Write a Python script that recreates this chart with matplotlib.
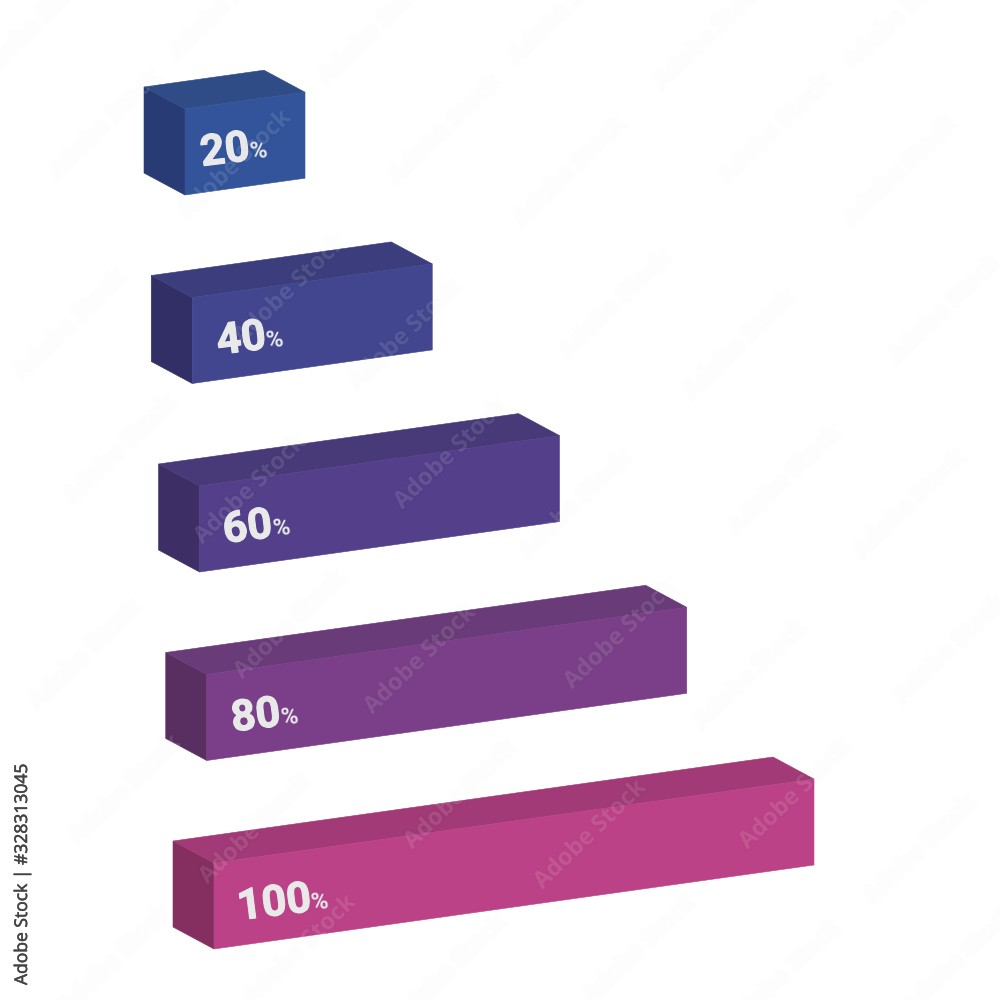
import matplotlib
matplotlib.use("Agg")
import matplotlib.pyplot as plt
import matplotlib.patheffects as pe
from matplotlib.patches import Polygon
from matplotlib.transforms import Affine2D

values = [20, 40, 60, 80, 100]
front_colors = ["#33549B", "#41468F", "#533F8A", "#7A3F88", "#BC4288"]
top_colors = ["#2F4C86", "#3B3D7C", "#483A78", "#693B78", "#A13A76"]
side_colors = ["#283B75", "#312F66", "#3D2F66", "#592F62", "#842F60"]
label_shift = [17, 26, 25, 26, 25]
wm_x = [35, 225, 375, 565, 710, 900, 105, 235, 445, 570, 775, 900,
        70, 290, 405, 615, 740, 945, 120, 250, 450, 575, 785, 910,
        85, 290, 420, 620, 750, 950, 125, 255, 460, 590, 795, 920,
        115, 300, 450, 640, 785, 960]
wm_y = [25, 5, 30, 10, 35, 15, 125, 165, 130, 172, 130, 172,
        325, 290, 335, 305, 345, 310, 450, 490, 455, 505, 480, 505,
        655, 625, 660, 635, 675, 650, 790, 830, 795, 835, 795, 850,
        960, 950, 970, 950, 975, 960]

PX_PER_PCT = 6.0
SLOPE = -0.14
HEIGHT = 86
DEPTH = (-41, -22)
ORIGIN = (185, 195)
ROW_STEP = (7.25, 188.5)

fig = plt.figure(figsize=(10, 10), dpi=100, facecolor="white")
ax = fig.add_axes([0, 0, 1, 1])
ax.set_xlim(0, 1000)
ax.set_ylim(1000, 0)
ax.axis("off")

# value (%) along the bar -> page position on the slanted axis of its row
def row_transform(row):
    return (Affine2D().from_values(PX_PER_PCT, PX_PER_PCT * SLOPE, 0, 1, 0, 0)
            .translate(ORIGIN[0] + row * ROW_STEP[0], ORIGIN[1] + row * ROW_STEP[1]))

for row, v in enumerate(values):
    t = row_transform(row) + ax.transData
    dx, dy = DEPTH[0] / PX_PER_PCT, DEPTH[1] - DEPTH[0] * SLOPE
    front = [(0, 0), (0, -HEIGHT), (v, -HEIGHT), (v, 0)]
    top = [(0, -HEIGHT), (dx, -HEIGHT + dy), (v + dx, -HEIGHT + dy), (v, -HEIGHT)]
    side = [(0, 0), (0, -HEIGHT), (dx, -HEIGHT + dy), (dx, dy)]
    for pts, col in ((side, side_colors[row]), (top, top_colors[row]), (front, front_colors[row])):
        ax.add_patch(Polygon(pts, closed=True, facecolor=col, edgecolor=col, lw=0.4, transform=t))
    digits = str(v)
    x0 = ORIGIN[0] + row * ROW_STEP[0] + label_shift[row]
    y0 = ORIGIN[1] + row * ROW_STEP[1] - 29
    ax.text(x0, y0, digits, family="Roboto", weight="bold", fontsize=31, color="#E9E9E9",
            rotation=7, rotation_mode="anchor", ha="left", va="baseline", zorder=3,
            path_effects=[pe.withStroke(linewidth=0.8, foreground="#E9E9E9")])
    w = len(digits) * 24 + 1
    ax.text(x0 + w, y0 + w * SLOPE, "%", family="Roboto", weight="bold", fontsize=17, color="#E9E9E9",
            rotation=7, rotation_mode="anchor", ha="left", va="baseline", zorder=3)

for x, y in zip(wm_x, wm_y):
    ax.text(x, y, "Adobe Stock", family="Open Sans", weight="bold", fontsize=17, color=(1, 1, 1, 0.06),
            rotation=44, rotation_mode="anchor", ha="center", va="center", zorder=4,
            path_effects=[pe.withStroke(linewidth=3, foreground=(0, 0, 0, 0.008))])

ax.text(23, 985, "Adobe Stock | #328313045", family="Open Sans", fontsize=12.6, color="#444444",
        rotation=90, ha="center", va="bottom", zorder=5,
        path_effects=[pe.withStroke(linewidth=0.4, foreground="#444444")])

fig.savefig("out.png", dpi=100, facecolor="white")
